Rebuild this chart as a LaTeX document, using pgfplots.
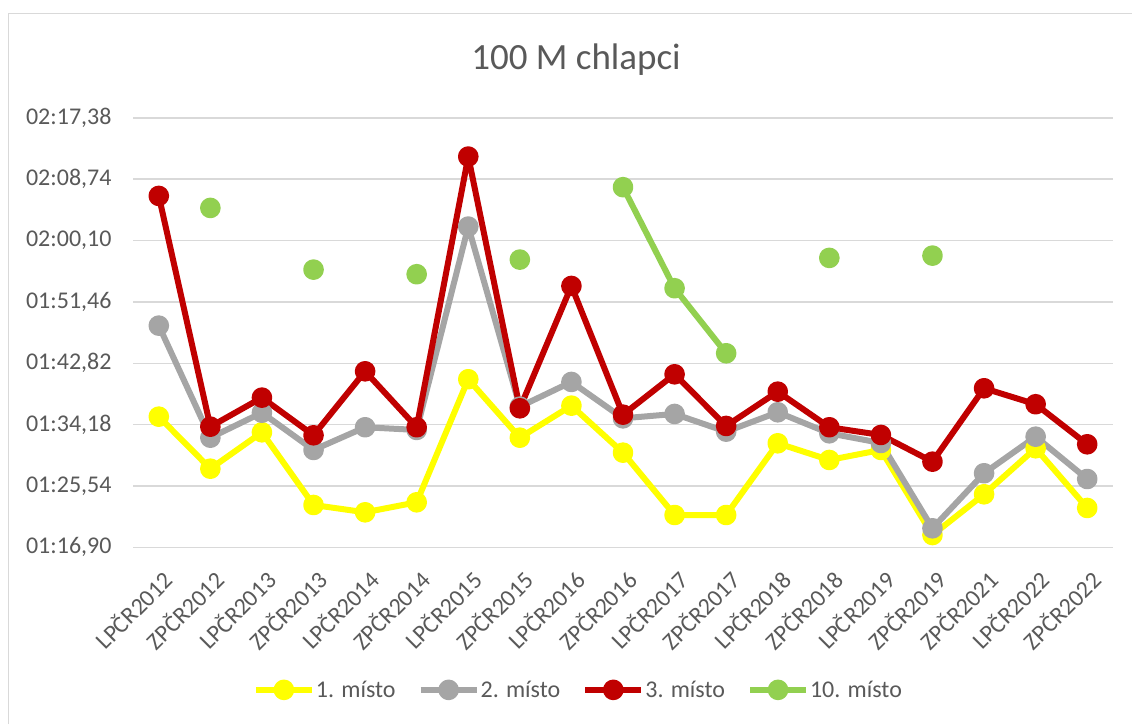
\documentclass[border=0pt]{standalone}
\usepackage{pgfplots}
\pgfplotsset{compat=1.18}
\usepackage{fontspec}
\setmainfont{Carlito}
\definecolor{cyel}{HTML}{FFFF00}
\definecolor{cgray}{HTML}{A5A5A5}
\definecolor{cred}{HTML}{C00000}
\definecolor{cgreen}{HTML}{92D050}
\definecolor{ctext}{HTML}{595959}
\definecolor{cgrid}{HTML}{D9D9D9}
\begin{document}
\begin{tikzpicture}
\path[use as bounding box] (0pt,0pt) rectangle (1132pt,724pt);
\draw[cgrid, line width=1.5pt] (8.5pt,0pt) -- (8.5pt,710.5pt) -- (1132pt,710.5pt);
\node[ctext, anchor=base, inner sep=0pt, font=\fontsize{37}{40}\selectfont] at (576pt,654pt) {100 M chlapci};
\begin{axis}[
  at={(133pt,176.7pt)}, anchor=south west,
  scale only axis, width=980pt, height=429.4pt,
  xmin=-0.5, xmax=18.5, ymin=76.9, ymax=137.38,
  clip=false,
  axis line style={draw=none},
  major tick length=0pt,
  ymajorgrids, grid style={cgrid, line width=1.5pt},
  ytick={76.90,85.54,94.18,102.82,111.46,120.10,128.74,137.38},
  yticklabels={{01:16,90},{01:25,54},{01:34,18},{01:42,82},{01:51,46},{02:00,10},{02:08,74},{02:17,38}},
  yticklabel style={font=\fontsize{24}{26}\selectfont, text=ctext, xshift=-18pt},
  xtick={0,...,18},
  xticklabels={LPČR2012,ZPČR2012,LPČR2013,ZPČR2013,LPČR2014,ZPČR2014,LPČR2015,ZPČR2015,LPČR2016,ZPČR2016,LPČR2017,ZPČR2017,LPČR2018,ZPČR2018,LPČR2019,ZPČR2019,ZPČR2021,LPČR2022,ZPČR2022},
  xticklabel style={font=\fontsize{24}{26}\selectfont, text=ctext, inner sep=0pt, xshift=9pt, yshift=-28pt, rotate=45, anchor=east},
  unbounded coords=jump,
  every axis plot/.append style={line width=6pt, line join=round, mark=*, mark size=7.3pt, mark options={solid}},
  legend columns=4,
  legend style={at={(0.454,-0.332)}, anchor=center, draw=none, fill=none,
    font=\fontsize{24}{26}\selectfont, text=ctext,
    /tikz/every even column/.append style={column sep=21pt},
    nodes={inner sep=1pt}},
  legend image code/.code={\draw[mark repeat=2,mark phase=2,#1] plot coordinates {(0pt,0pt) (28pt,0pt) (56pt,0pt)};},
]
\addplot[color=cyel] coordinates {(0,95.30)(1,87.97)(2,93.10)(3,82.86)(4,81.83)(5,83.24)(6,100.57)(7,92.34)(8,96.85)(9,90.23)(10,81.45)(11,81.45)(12,91.55)(13,89.20)(14,90.61)(15,78.63)(16,84.37)(17,90.85)(18,82.44)};
\addlegendentry{1. místo}
\addplot[color=cgray] coordinates {(0,108.12)(1,92.34)(2,95.86)(3,90.61)(4,93.81)(5,93.43)(6,122.07)(7,96.71)(8,100.19)(9,95.07)(10,95.68)(11,93.19)(12,95.92)(13,92.96)(14,91.59)(15,79.58)(16,87.33)(17,92.48)(18,86.52)};
\addlegendentry{2. místo}
\addplot[color=cred] coordinates {(0,126.39)(1,93.89)(2,97.98)(3,92.68)(4,101.69)(5,93.81)(6,131.93)(7,96.48)(8,113.71)(9,95.58)(10,101.27)(11,93.99)(12,98.82)(13,93.81)(14,92.72)(15,88.96)(16,99.30)(17,97.05)(18,91.41)};
\addlegendentry{3. místo}
\addplot[color=cgreen] coordinates {(0,nan)(1,124.70)(2,nan)(3,116.01)(4,nan)(5,115.36)(6,nan)(7,117.42)(8,nan)(9,127.62)(10,113.39)(11,104.23)(12,nan)(13,117.66)(14,nan)(15,117.98)(16,nan)(17,nan)(18,nan)};
\addlegendentry{10. místo}
\end{axis}
\end{tikzpicture}
\end{document}
